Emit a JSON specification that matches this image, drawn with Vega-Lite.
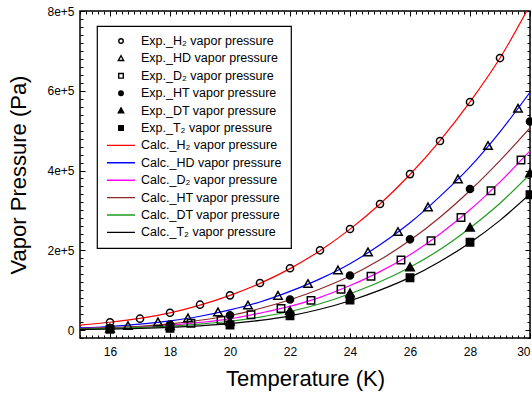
{
  "$schema": "https://vega.github.io/schema/vega-lite/v6.json",
  "width": 450,
  "height": 327,
  "autosize": {"type": "none"},
  "padding": {"left": 80, "top": 11, "right": 2, "bottom": 62},
  "config": {
    "view": {"stroke": "black", "strokeWidth": 1.5},
    "font": "Liberation Sans",
    "axis": {"grid": false, "domain": false, "tickColor": "black", "tickWidth": 1, "labelColor": "black", "labelFont": "Liberation Sans", "labelFontSize": 12, "titleFont": "Liberation Sans", "titleFontSize": 22, "titleFontWeight": "normal", "titleColor": "black"},
    "legend": {"orient": "none", "legendX": 17, "legendY": 15, "strokeColor": "black", "strokeWidth": 1.2, "fillColor": "white", "padding": 9, "labelFont": "Liberation Sans", "labelFontSize": 12.5, "labelColor": "black", "labelOffset": 5, "rowPadding": 4.4, "symbolSize": 784, "symbolStrokeWidth": 1.4, "clipHeight": 12, "labelLimit": 300}
  },
  "datasets": {
    "exp": [
      {"series": "Exp._H₂ vapor pressure", "T": 16, "P": 19400},
      {"series": "Exp._H₂ vapor pressure", "T": 17, "P": 28400},
      {"series": "Exp._H₂ vapor pressure", "T": 18, "P": 43400},
      {"series": "Exp._H₂ vapor pressure", "T": 19, "P": 63500},
      {"series": "Exp._H₂ vapor pressure", "T": 20, "P": 87000},
      {"series": "Exp._H₂ vapor pressure", "T": 21, "P": 117900},
      {"series": "Exp._H₂ vapor pressure", "T": 22, "P": 154800},
      {"series": "Exp._H₂ vapor pressure", "T": 23, "P": 199900},
      {"series": "Exp._H₂ vapor pressure", "T": 24, "P": 253300},
      {"series": "Exp._H₂ vapor pressure", "T": 25, "P": 316000},
      {"series": "Exp._H₂ vapor pressure", "T": 26, "P": 391000},
      {"series": "Exp._H₂ vapor pressure", "T": 27, "P": 474000},
      {"series": "Exp._H₂ vapor pressure", "T": 28, "P": 571800},
      {"series": "Exp._H₂ vapor pressure", "T": 29, "P": 682000},
      {"series": "Exp._HD vapor pressure", "T": 16.6, "P": 10100},
      {"series": "Exp._HD vapor pressure", "T": 17.6, "P": 19400},
      {"series": "Exp._HD vapor pressure", "T": 18.6, "P": 29400},
      {"series": "Exp._HD vapor pressure", "T": 19.6, "P": 44500},
      {"series": "Exp._HD vapor pressure", "T": 20.6, "P": 61500},
      {"series": "Exp._HD vapor pressure", "T": 21.6, "P": 85800},
      {"series": "Exp._HD vapor pressure", "T": 22.6, "P": 115400},
      {"series": "Exp._HD vapor pressure", "T": 23.6, "P": 149800},
      {"series": "Exp._HD vapor pressure", "T": 24.6, "P": 194900},
      {"series": "Exp._HD vapor pressure", "T": 25.6, "P": 245800},
      {"series": "Exp._HD vapor pressure", "T": 26.6, "P": 307700},
      {"series": "Exp._HD vapor pressure", "T": 27.6, "P": 378000},
      {"series": "Exp._HD vapor pressure", "T": 28.6, "P": 461500},
      {"series": "Exp._HD vapor pressure", "T": 29.6, "P": 555000},
      {"series": "Exp._D₂ vapor pressure", "T": 18.7, "P": 16900},
      {"series": "Exp._D₂ vapor pressure", "T": 19.7, "P": 24400},
      {"series": "Exp._D₂ vapor pressure", "T": 20.7, "P": 38200},
      {"series": "Exp._D₂ vapor pressure", "T": 21.7, "P": 54000},
      {"series": "Exp._D₂ vapor pressure", "T": 22.7, "P": 74500},
      {"series": "Exp._D₂ vapor pressure", "T": 23.7, "P": 102400},
      {"series": "Exp._D₂ vapor pressure", "T": 24.7, "P": 135000},
      {"series": "Exp._D₂ vapor pressure", "T": 25.7, "P": 175600},
      {"series": "Exp._D₂ vapor pressure", "T": 26.7, "P": 224000},
      {"series": "Exp._D₂ vapor pressure", "T": 27.7, "P": 282200},
      {"series": "Exp._D₂ vapor pressure", "T": 28.7, "P": 349100},
      {"series": "Exp._D₂ vapor pressure", "T": 29.7, "P": 426400},
      {"series": "Exp._HT vapor pressure", "T": 16, "P": 5000},
      {"series": "Exp._HT vapor pressure", "T": 18, "P": 13900},
      {"series": "Exp._HT vapor pressure", "T": 20, "P": 36900},
      {"series": "Exp._HT vapor pressure", "T": 22, "P": 76500},
      {"series": "Exp._HT vapor pressure", "T": 24, "P": 136700},
      {"series": "Exp._HT vapor pressure", "T": 26, "P": 227500},
      {"series": "Exp._HT vapor pressure", "T": 28, "P": 353600},
      {"series": "Exp._HT vapor pressure", "T": 30, "P": 522900},
      {"series": "Exp._DT vapor pressure", "T": 16, "P": 3500},
      {"series": "Exp._DT vapor pressure", "T": 18, "P": 10000},
      {"series": "Exp._DT vapor pressure", "T": 20, "P": 20900},
      {"series": "Exp._DT vapor pressure", "T": 22, "P": 47700},
      {"series": "Exp._DT vapor pressure", "T": 24, "P": 92100},
      {"series": "Exp._DT vapor pressure", "T": 26, "P": 157300},
      {"series": "Exp._DT vapor pressure", "T": 28, "P": 256600},
      {"series": "Exp._DT vapor pressure", "T": 30, "P": 393000},
      {"series": "Exp._T₂ vapor pressure", "T": 16, "P": 1500},
      {"series": "Exp._T₂ vapor pressure", "T": 18, "P": 4300},
      {"series": "Exp._T₂ vapor pressure", "T": 20, "P": 12600},
      {"series": "Exp._T₂ vapor pressure", "T": 22, "P": 35900},
      {"series": "Exp._T₂ vapor pressure", "T": 24, "P": 75300},
      {"series": "Exp._T₂ vapor pressure", "T": 26, "P": 131200},
      {"series": "Exp._T₂ vapor pressure", "T": 28, "P": 220000},
      {"series": "Exp._T₂ vapor pressure", "T": 30, "P": 339300}
    ],
    "calc": [
      {"series": "Calc._H₂ vapor pressure", "T": 15, "P": 12500},
      {"series": "Calc._H₂ vapor pressure", "T": 16, "P": 19500},
      {"series": "Calc._H₂ vapor pressure", "T": 17, "P": 29000},
      {"series": "Calc._H₂ vapor pressure", "T": 18, "P": 43000},
      {"series": "Calc._H₂ vapor pressure", "T": 19, "P": 62500},
      {"series": "Calc._H₂ vapor pressure", "T": 20, "P": 87000},
      {"series": "Calc._H₂ vapor pressure", "T": 21, "P": 117000},
      {"series": "Calc._H₂ vapor pressure", "T": 22, "P": 154000},
      {"series": "Calc._H₂ vapor pressure", "T": 23, "P": 199000},
      {"series": "Calc._H₂ vapor pressure", "T": 24, "P": 253000},
      {"series": "Calc._H₂ vapor pressure", "T": 25, "P": 316000},
      {"series": "Calc._H₂ vapor pressure", "T": 26, "P": 390000},
      {"series": "Calc._H₂ vapor pressure", "T": 27, "P": 475000},
      {"series": "Calc._H₂ vapor pressure", "T": 28, "P": 572000},
      {"series": "Calc._H₂ vapor pressure", "T": 29, "P": 682000},
      {"series": "Calc._H₂ vapor pressure", "T": 30, "P": 815000},
      {"series": "Calc._HD vapor pressure", "T": 15, "P": 5300},
      {"series": "Calc._HD vapor pressure", "T": 16, "P": 8900},
      {"series": "Calc._HD vapor pressure", "T": 17, "P": 14600},
      {"series": "Calc._HD vapor pressure", "T": 18, "P": 23000},
      {"series": "Calc._HD vapor pressure", "T": 19, "P": 34600},
      {"series": "Calc._HD vapor pressure", "T": 20, "P": 50600},
      {"series": "Calc._HD vapor pressure", "T": 21, "P": 70400},
      {"series": "Calc._HD vapor pressure", "T": 22, "P": 96900},
      {"series": "Calc._HD vapor pressure", "T": 23, "P": 128300},
      {"series": "Calc._HD vapor pressure", "T": 24, "P": 166400},
      {"series": "Calc._HD vapor pressure", "T": 25, "P": 213600},
      {"series": "Calc._HD vapor pressure", "T": 26, "P": 268800},
      {"series": "Calc._HD vapor pressure", "T": 27, "P": 335000},
      {"series": "Calc._HD vapor pressure", "T": 28, "P": 409000},
      {"series": "Calc._HD vapor pressure", "T": 29, "P": 497000},
      {"series": "Calc._HD vapor pressure", "T": 30, "P": 596000},
      {"series": "Calc._D₂ vapor pressure", "T": 15, "P": 3500},
      {"series": "Calc._D₂ vapor pressure", "T": 16, "P": 5500},
      {"series": "Calc._D₂ vapor pressure", "T": 17, "P": 8500},
      {"series": "Calc._D₂ vapor pressure", "T": 18, "P": 12500},
      {"series": "Calc._D₂ vapor pressure", "T": 19, "P": 19000},
      {"series": "Calc._D₂ vapor pressure", "T": 20, "P": 28000},
      {"series": "Calc._D₂ vapor pressure", "T": 21, "P": 42500},
      {"series": "Calc._D₂ vapor pressure", "T": 22, "P": 59500},
      {"series": "Calc._D₂ vapor pressure", "T": 23, "P": 82000},
      {"series": "Calc._D₂ vapor pressure", "T": 24, "P": 111500},
      {"series": "Calc._D₂ vapor pressure", "T": 25, "P": 146500},
      {"series": "Calc._D₂ vapor pressure", "T": 26, "P": 189000},
      {"series": "Calc._D₂ vapor pressure", "T": 27, "P": 241000},
      {"series": "Calc._D₂ vapor pressure", "T": 28, "P": 301500},
      {"series": "Calc._D₂ vapor pressure", "T": 29, "P": 371500},
      {"series": "Calc._D₂ vapor pressure", "T": 30, "P": 449000},
      {"series": "Calc._HT vapor pressure", "T": 15, "P": 3500},
      {"series": "Calc._HT vapor pressure", "T": 16, "P": 6000},
      {"series": "Calc._HT vapor pressure", "T": 17, "P": 9500},
      {"series": "Calc._HT vapor pressure", "T": 18, "P": 15500},
      {"series": "Calc._HT vapor pressure", "T": 19, "P": 24500},
      {"series": "Calc._HT vapor pressure", "T": 20, "P": 36500},
      {"series": "Calc._HT vapor pressure", "T": 21, "P": 54000},
      {"series": "Calc._HT vapor pressure", "T": 22, "P": 76000},
      {"series": "Calc._HT vapor pressure", "T": 23, "P": 103000},
      {"series": "Calc._HT vapor pressure", "T": 24, "P": 135500},
      {"series": "Calc._HT vapor pressure", "T": 25, "P": 176000},
      {"series": "Calc._HT vapor pressure", "T": 26, "P": 225000},
      {"series": "Calc._HT vapor pressure", "T": 27, "P": 283000},
      {"series": "Calc._HT vapor pressure", "T": 28, "P": 350000},
      {"series": "Calc._HT vapor pressure", "T": 29, "P": 425000},
      {"series": "Calc._HT vapor pressure", "T": 30, "P": 507000},
      {"series": "Calc._DT vapor pressure", "T": 15, "P": 2500},
      {"series": "Calc._DT vapor pressure", "T": 16, "P": 4000},
      {"series": "Calc._DT vapor pressure", "T": 17, "P": 6500},
      {"series": "Calc._DT vapor pressure", "T": 18, "P": 10000},
      {"series": "Calc._DT vapor pressure", "T": 19, "P": 15000},
      {"series": "Calc._DT vapor pressure", "T": 20, "P": 22000},
      {"series": "Calc._DT vapor pressure", "T": 21, "P": 32500},
      {"series": "Calc._DT vapor pressure", "T": 22, "P": 46500},
      {"series": "Calc._DT vapor pressure", "T": 23, "P": 66000},
      {"series": "Calc._DT vapor pressure", "T": 24, "P": 91000},
      {"series": "Calc._DT vapor pressure", "T": 25, "P": 121000},
      {"series": "Calc._DT vapor pressure", "T": 26, "P": 157500},
      {"series": "Calc._DT vapor pressure", "T": 27, "P": 202000},
      {"series": "Calc._DT vapor pressure", "T": 28, "P": 256000},
      {"series": "Calc._DT vapor pressure", "T": 29, "P": 318000},
      {"series": "Calc._DT vapor pressure", "T": 30, "P": 391000},
      {"series": "Calc._T₂ vapor pressure", "T": 15, "P": 1500},
      {"series": "Calc._T₂ vapor pressure", "T": 16, "P": 2500},
      {"series": "Calc._T₂ vapor pressure", "T": 17, "P": 4000},
      {"series": "Calc._T₂ vapor pressure", "T": 18, "P": 6500},
      {"series": "Calc._T₂ vapor pressure", "T": 19, "P": 10500},
      {"series": "Calc._T₂ vapor pressure", "T": 20, "P": 16000},
      {"series": "Calc._T₂ vapor pressure", "T": 21, "P": 24000},
      {"series": "Calc._T₂ vapor pressure", "T": 22, "P": 35500},
      {"series": "Calc._T₂ vapor pressure", "T": 23, "P": 52000},
      {"series": "Calc._T₂ vapor pressure", "T": 24, "P": 73500},
      {"series": "Calc._T₂ vapor pressure", "T": 25, "P": 100000},
      {"series": "Calc._T₂ vapor pressure", "T": 26, "P": 132000},
      {"series": "Calc._T₂ vapor pressure", "T": 27, "P": 172000},
      {"series": "Calc._T₂ vapor pressure", "T": 28, "P": 219000},
      {"series": "Calc._T₂ vapor pressure", "T": 29, "P": 275000},
      {"series": "Calc._T₂ vapor pressure", "T": 30, "P": 341000}
    ]
  },
  "resolve": {"axis": {"x": "independent", "y": "independent"}},
  "layer": [
    {
      "data": {"name": "calc"},
      "mark": {"type": "line", "interpolate": "monotone", "strokeWidth": 1.2, "clip": true},
      "encoding": {
        "x": {"field": "T", "type": "quantitative", "scale": {"domain": [15, 30], "nice": false, "zero": false},
              "axis": {"orient": "bottom", "values": [16, 18, 20, 22, 24, 26, 28, 30], "tickSize": -5, "labelPadding": 13, "title": "Temperature (K)", "titlePadding": 11.5}},
        "y": {"field": "P", "type": "quantitative", "scale": {"domain": [-20000, 800000], "nice": false, "zero": false},
              "axis": {"orient": "left", "values": [0, 200000, 400000, 600000, 800000], "tickSize": -5, "labelPadding": 11, "labelExpr": "datum.value == 0 ? '0' : format(datum.value, '.0e')", "title": "Vapor Pressure (Pa)", "titlePadding": 16}},
        "stroke": {"field": "series", "type": "nominal",
          "scale": {"domain": ["Exp._H₂ vapor pressure", "Exp._HD vapor pressure", "Exp._D₂ vapor pressure", "Exp._HT vapor pressure", "Exp._DT vapor pressure", "Exp._T₂ vapor pressure", "Calc._H₂ vapor pressure", "Calc._HD vapor pressure", "Calc._D₂ vapor pressure", "Calc._HT vapor pressure", "Calc._DT vapor pressure", "Calc._T₂ vapor pressure"],
                    "range": ["black", "black", "black", "black", "black", "black", "#ff0000", "#0000ff", "#ff00ff", "#8b2a2a", "#1f9a1f", "#000000"]},
          "legend": {"title": null}}
      }
    },
    {
      "data": {"name": "exp"},
      "mark": {"type": "point", "size": 2000, "strokeWidth": 1.5, "opacity": 1},
      "encoding": {
        "x": {"field": "T", "type": "quantitative", "axis": {"orient": "bottom", "tickCount": 75, "tickSize": -3, "labels": false, "title": null}},
        "y": {"field": "P", "type": "quantitative", "axis": {"orient": "left", "tickCount": 41, "tickSize": -3, "labels": false, "title": null}},
        "stroke": {"field": "series", "type": "nominal", "legend": {"title": null}},
        "shape": {"field": "series", "type": "nominal",
          "scale": {"domain": ["Exp._H₂ vapor pressure", "Exp._HD vapor pressure", "Exp._D₂ vapor pressure", "Exp._HT vapor pressure", "Exp._DT vapor pressure", "Exp._T₂ vapor pressure", "Calc._H₂ vapor pressure", "Calc._HD vapor pressure", "Calc._D₂ vapor pressure", "Calc._HT vapor pressure", "Calc._DT vapor pressure", "Calc._T₂ vapor pressure"],
                    "range": ["M-0.16,0A0.16,0.16,0,1,0,0.16,0A0.16,0.16,0,1,0,-0.16,0Z", "M0,-0.19L0.19,0.15L-0.19,0.15Z", "M-0.165,-0.165H0.165V0.165H-0.165Z", "M-0.16,0A0.16,0.16,0,1,0,0.16,0A0.16,0.16,0,1,0,-0.16,0Z", "M0,-0.19L0.19,0.15L-0.19,0.15Z", "M-0.165,-0.165H0.165V0.165H-0.165Z", "stroke", "stroke", "stroke", "stroke", "stroke", "stroke"]},
          "legend": {"title": null}},
        "fill": {"field": "series", "type": "nominal",
          "scale": {"domain": ["Exp._H₂ vapor pressure", "Exp._HD vapor pressure", "Exp._D₂ vapor pressure", "Exp._HT vapor pressure", "Exp._DT vapor pressure", "Exp._T₂ vapor pressure", "Calc._H₂ vapor pressure", "Calc._HD vapor pressure", "Calc._D₂ vapor pressure", "Calc._HT vapor pressure", "Calc._DT vapor pressure", "Calc._T₂ vapor pressure"],
                    "range": ["transparent", "transparent", "transparent", "black", "black", "black", "transparent", "transparent", "transparent", "transparent", "transparent", "transparent"]},
          "legend": {"title": null}}
      }
    },
    {
      "data": {"name": "exp"},
      "mark": {"type": "point", "opacity": 0},
      "encoding": {
        "x": {"field": "T", "type": "quantitative", "axis": {"orient": "top", "values": [16, 18, 20, 22, 24, 26, 28, 30], "tickSize": -5, "labels": false, "title": null}},
        "y": {"field": "P", "type": "quantitative", "axis": {"orient": "right", "values": [0, 200000, 400000, 600000, 800000], "tickSize": -5, "labels": false, "title": null}}
      }
    },
    {
      "data": {"name": "exp"},
      "mark": {"type": "point", "opacity": 0},
      "encoding": {
        "x": {"field": "T", "type": "quantitative", "axis": {"orient": "top", "tickCount": 75, "tickSize": -3, "labels": false, "title": null}},
        "y": {"field": "P", "type": "quantitative", "axis": {"orient": "right", "tickCount": 41, "tickSize": -3, "labels": false, "title": null}}
      }
    }
  ]
}
